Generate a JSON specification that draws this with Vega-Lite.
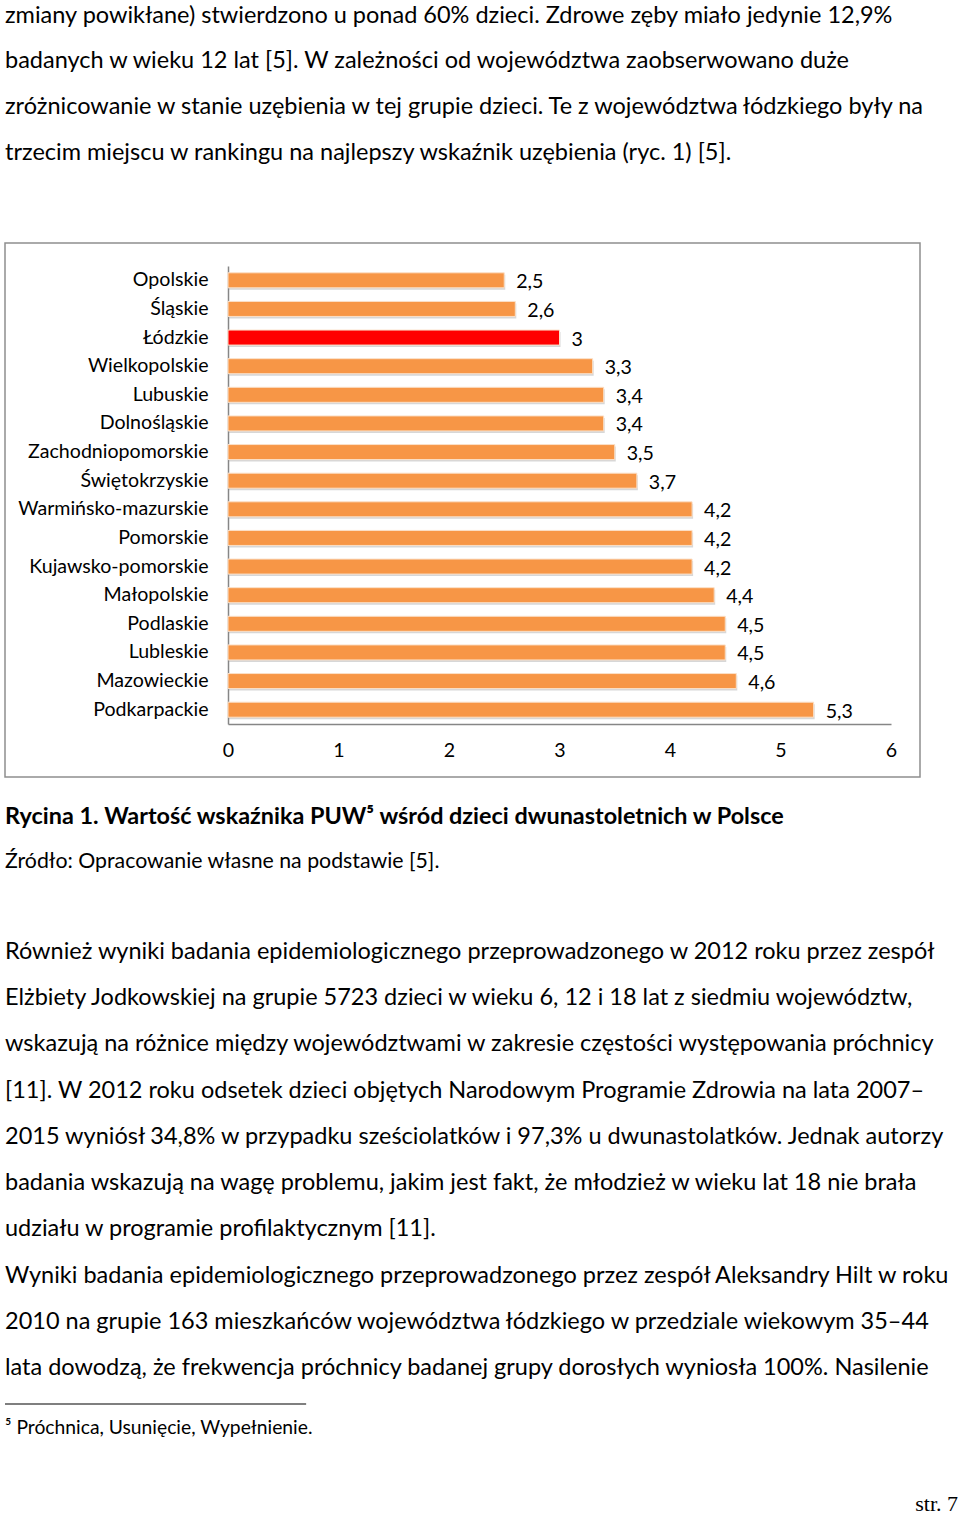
{
  "$schema": "https://vega.github.io/schema/vega-lite/v6.json",
  "background": "white",
  "padding": {"left": 4, "top": 0, "right": 3, "bottom": 0},
  "spacing": 0,
  "config": {
    "view": {"stroke": null},
    "font": "Lato",
    "text": {"font": "Lato", "color": "black"},
    "locale": {"number": {"decimal": ",", "thousands": "\u00a0", "grouping": [3], "currency": ["", " zł"]}}
  },
  "vconcat": [
    {
      "width": 953,
      "height": 242,
      "data": {"values": [
        {"line": 0, "text": "zmiany powikłane) stwierdzono u ponad 60% dzieci. Zdrowe zęby miało jedynie 12,9%"},
        {"line": 1, "text": "badanych w wieku 12 lat [5]. W zależności od województwa zaobserwowano duże"},
        {"line": 2, "text": "zróżnicowanie w stanie uzębienia w tej grupie dzieci. Te z województwa łódzkiego były na"},
        {"line": 3, "text": "trzecim miejscu w rankingu na najlepszy wskaźnik uzębienia (ryc. 1) [5]."}
      ]},
      "mark": {"type": "text", "align": "left", "baseline": "middle", "fontSize": 23.5},
      "encoding": {
        "x": {"datum": 0, "type": "quantitative", "scale": {"domain": [0, 1]}, "axis": null},
        "y": {"field": "line", "type": "quantitative", "scale": {"domain": [-0.34, 4.955], "reverse": true, "nice": false, "zero": false}, "axis": null},
        "text": {"field": "text"}
      }
    },
    {
      "width": 915,
      "height": 534,
      "view": {"stroke": "#8F8F8F", "strokeWidth": 1.5},
      "data": {"values": [
        {"region": "Opolskie", "value": 2.5},
        {"region": "Śląskie", "value": 2.6},
        {"region": "Łódzkie", "value": 3.0},
        {"region": "Wielkopolskie", "value": 3.3},
        {"region": "Lubuskie", "value": 3.4},
        {"region": "Dolnośląskie", "value": 3.4},
        {"region": "Zachodniopomorskie", "value": 3.5},
        {"region": "Świętokrzyskie", "value": 3.7},
        {"region": "Warmińsko-mazurskie", "value": 4.2},
        {"region": "Pomorskie", "value": 4.2},
        {"region": "Kujawsko-pomorskie", "value": 4.2},
        {"region": "Małopolskie", "value": 4.4},
        {"region": "Podlaskie", "value": 4.5},
        {"region": "Lubleskie", "value": 4.5},
        {"region": "Mazowieckie", "value": 4.6},
        {"region": "Podkarpackie", "value": 5.3}
      ]},
      "encoding": {
        "y": {
          "field": "region", "type": "nominal", "sort": null,
          "scale": {"range": [23, 481], "paddingInner": 0.475, "paddingOuter": 0.2375},
          "axis": {"title": null, "orient": "left", "offset": -223, "ticks": false, "tickSize": 0, "labelPadding": 20, "labelFontSize": 19.6, "labelFont": "Lato", "labelColor": "black", "domainColor": "#868686", "domainWidth": 1.5, "grid": false, "labelLimit": 0}
        },
        "x": {
          "field": "value", "type": "quantitative",
          "scale": {"domain": [0, 6], "range": [223, 886], "nice": false, "zero": true},
          "axis": {"title": null, "orient": "bottom", "offset": -53, "values": [0, 1, 2, 3, 4, 5, 6], "format": "d", "ticks": false, "tickSize": 0, "labelPadding": 17, "labelFontSize": 19.6, "labelFont": "Lato", "labelColor": "black", "domainColor": "#868686", "domainWidth": 1.5, "grid": false, "labelFlush": false}
        }
      },
      "layer": [
        {"mark": {"type": "bar", "color": "#A6A6A6", "opacity": 0.45, "yOffset": 2, "xOffset": 1}},
        {
          "mark": {"type": "bar", "stroke": "#FBE0C8", "strokeWidth": 1},
          "encoding": {"color": {"condition": {"test": "datum.region === 'Łódzkie'", "value": "#FF0000"}, "value": "#F79646"}}
        },
        {
          "mark": {"type": "text", "align": "left", "baseline": "middle", "dx": 12, "dy": 2, "fontSize": 19.6},
          "encoding": {"text": {"field": "value", "type": "quantitative", "format": ".1~f"}}
        }
      ]
    },
    {
      "width": 953,
      "height": 129,
      "layer": [
        {
          "data": {"values": [{"line": 0, "text": "Rycina 1. Wartość wskaźnika PUW⁵ wśród dzieci dwunastoletnich w Polsce"}]},
          "mark": {"type": "text", "align": "left", "baseline": "middle", "fontSize": 23.4, "fontWeight": "bold"},
          "encoding": {
            "x": {"datum": 0, "type": "quantitative", "scale": {"domain": [0, 1]}, "axis": null},
            "y": {"field": "line", "type": "quantitative", "scale": {"domain": [-0.8667, 2.0], "reverse": true, "nice": false, "zero": false}, "axis": null},
            "text": {"field": "text"}
          }
        },
        {
          "data": {"values": [{"line": 1, "text": "Źródło: Opracowanie własne na podstawie [5]."}]},
          "mark": {"type": "text", "align": "left", "baseline": "middle", "fontSize": 21.3},
          "encoding": {
            "x": {"datum": 0, "type": "quantitative", "axis": null},
            "y": {"field": "line", "type": "quantitative", "axis": null},
            "text": {"field": "text"}
          }
        }
      ]
    },
    {
      "width": 953,
      "height": 485,
      "data": {"values": [
        {"line": 0, "text": "Również wyniki badania epidemiologicznego przeprowadzonego w 2012 roku przez zespół"},
        {"line": 1, "text": "Elżbiety Jodkowskiej na grupie 5723 dzieci w wieku 6, 12 i 18 lat z siedmiu województw,"},
        {"line": 2, "text": "wskazują na różnice między województwami w zakresie częstości występowania próchnicy"},
        {"line": 3, "text": "[11]. W 2012 roku odsetek dzieci objętych Narodowym Programie Zdrowia na lata 2007–"},
        {"line": 4, "text": "2015 wyniósł 34,8% w przypadku sześciolatków i 97,3% u dwunastolatków. Jednak autorzy"},
        {"line": 5, "text": "badania wskazują na wagę problemu, jakim jest fakt, że młodzież w wieku lat 18 nie brała"},
        {"line": 6, "text": "udziału w programie profilaktycznym [11]."},
        {"line": 7, "text": "Wyniki badania epidemiologicznego przeprowadzonego przez zespół Aleksandry Hilt w roku"},
        {"line": 8, "text": "2010 na grupie 163 mieszkańców województwa łódzkiego w przedziale wiekowym 35–44"},
        {"line": 9, "text": "lata dowodzą, że frekwencja próchnicy badanej grupy dorosłych wyniosła 100%. Nasilenie"}
      ]},
      "mark": {"type": "text", "align": "left", "baseline": "middle", "fontSize": 23.5},
      "encoding": {
        "x": {"datum": 0, "type": "quantitative", "scale": {"domain": [0, 1]}, "axis": null},
        "y": {"field": "line", "type": "quantitative", "scale": {"domain": [-0.9736, 9.52], "reverse": true, "nice": false, "zero": false}, "axis": null},
        "text": {"field": "text"}
      }
    },
    {
      "width": 953,
      "height": 70,
      "layer": [
        {
          "data": {"values": [{"line": 0}]},
          "mark": {"type": "rule", "color": "black", "strokeWidth": 1.2},
          "encoding": {
            "x": {"datum": 0, "type": "quantitative", "scale": {"domain": [0, 1]}, "axis": null},
            "x2": {"datum": 0.316},
            "y": {"field": "line", "type": "quantitative", "scale": {"domain": [-0.5, 2.4167], "reverse": true, "nice": false, "zero": false}, "axis": null}
          }
        },
        {
          "data": {"values": [{"line": 1, "text": "⁵ Próchnica, Usunięcie, Wypełnienie."}]},
          "mark": {"type": "text", "align": "left", "baseline": "middle", "fontSize": 19.3},
          "encoding": {
            "x": {"datum": 0, "type": "quantitative", "axis": null},
            "y": {"field": "line", "type": "quantitative", "axis": null},
            "text": {"field": "text"}
          }
        }
      ]
    },
    {
      "width": 953,
      "height": 53,
      "data": {"values": [{"line": 0, "text": "str. 7"}]},
      "mark": {"type": "text", "align": "right", "baseline": "middle", "fontSize": 22, "font": "Liberation Serif"},
      "encoding": {
        "x": {"datum": 1, "type": "quantitative", "scale": {"domain": [0, 1]}, "axis": null},
        "y": {"field": "line", "type": "quantitative", "scale": {"domain": [-1, 0.2619], "reverse": true, "nice": false, "zero": false}, "axis": null},
        "text": {"field": "text"}
      }
    }
  ]
}
